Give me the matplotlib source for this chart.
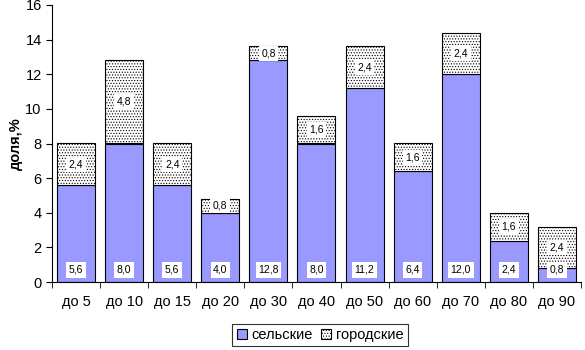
import matplotlib.pyplot as plt
import numpy as np

plt.rcParams['font.family'] = ['Liberation Sans', 'DejaVu Sans']
plt.rcParams['hatch.color'] = '#aaaaaa'
plt.rcParams['hatch.linewidth'] = 0.5

categories = ['до 5', 'до 10', 'до 15', 'до 20', 'до 30', 'до 40',
              'до 50', 'до 60', 'до 70', 'до 80', 'до 90']
rural = [5.6, 8.0, 5.6, 4.0, 12.8, 8.0, 11.2, 6.4, 12.0, 2.4, 0.8]
urban = [2.4, 4.8, 2.4, 0.8, 0.8, 1.6, 2.4, 1.6, 2.4, 1.6, 2.4]

def fmt(v):
    return ('%.1f' % v).replace('.', ',')

fig = plt.figure(figsize=(5.85, 3.5), dpi=100)
ax = fig.add_axes([0.089, 0.194, 0.904, 0.792])

x = np.arange(len(categories))
w = 0.79
b1 = ax.bar(x, rural, w, color='#9999ff', edgecolor='black', linewidth=0.8,
            label='сельские')
b2 = ax.bar(x, urban, w, bottom=rural, color='white', edgecolor='black',
            linewidth=0.8, hatch='......', label='городские')

box = dict(boxstyle='square,pad=0.25', facecolor='white', edgecolor='none')
for i in range(len(categories)):
    ax.text(x[i], 0.7, fmt(rural[i]), ha='center', va='center', fontsize=7.5,
            bbox=box)
    ax.text(x[i], rural[i] + urban[i] / 2, fmt(urban[i]), ha='center',
            va='center', fontsize=7.5, bbox=box)

ax.set_xlim(-0.5, len(categories) - 0.5)
ax.set_ylim(0, 16)
ax.set_yticks(np.arange(0, 17, 2))
ax.set_xticks(x)
ax.set_xticklabels(categories, fontsize=10.5)
ax.set_xticks(np.arange(-0.5, len(categories)), minor=True)
ax.tick_params(axis='x', which='major', length=0, pad=9)
ax.tick_params(axis='x', which='minor', length=4, direction='out')
ax.tick_params(axis='y', labelsize=10.5, length=4, direction='out')
ax.set_ylabel('доля,%', fontsize=10.5, fontweight='bold', labelpad=2)
for s in ['top', 'right']:
    ax.spines[s].set_visible(False)

leg = fig.legend(handles=[b1, b2], loc='center', bbox_to_anchor=(0.547, 0.043),
                 ncol=2, fontsize=10.5, frameon=True, fancybox=False,
                 handlelength=0.7, handleheight=0.7, handletextpad=0.3,
                 columnspacing=0.6, borderpad=0.3)
leg.get_frame().set_edgecolor('black')
leg.get_frame().set_linewidth(0.8)

fig.savefig('out.png', dpi=100)
